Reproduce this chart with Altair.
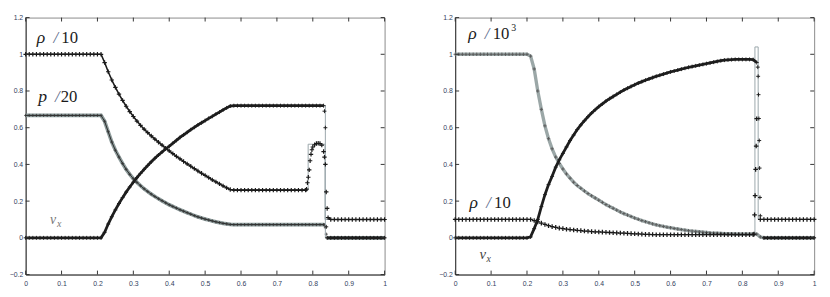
import altair as alt
import pandas as pd

# sampling positions of the numerical solution (step 0.01)
X_GRID = [round(i * 0.01, 2) for i in range(101)]
XTICKS = [0, 0.1, 0.2, 0.3, 0.4, 0.5, 0.6, 0.7, 0.8, 0.9, 1]
YTICKS = [-0.2, 0, 0.2, 0.4, 0.6, 0.8, 1, 1.2]

# ---------------- left panel ----------------
L_RHO_MID = [1.0, 0.955, 0.905, 0.860, 0.820, 0.783, 0.749, 0.717, 0.688, 0.661,
             0.636, 0.613, 0.592, 0.573, 0.555, 0.538, 0.521, 0.505, 0.489, 0.474,
             0.459, 0.444, 0.430, 0.416, 0.403, 0.390, 0.377, 0.364, 0.352, 0.340,
             0.328, 0.316, 0.305, 0.294, 0.283, 0.272, 0.263]
L_RHO = [1.0] * 21 + L_RHO_MID + [0.26] * 21 + [0.37, 0.495, 0.514, 0.514, 0.47, 0.16] + [0.1] * 16
L_RHO_EX_X = [0.7825, 0.785, 0.7875, 0.7925, 0.795, 0.7975, 0.805, 0.815, 0.825, 0.8325, 0.835, 0.8375, 0.8425]
L_RHO_EX_Y = [0.265, 0.30, 0.33, 0.42, 0.455, 0.48, 0.507, 0.515, 0.505, 0.44, 0.40, 0.25, 0.11]

L_VX_MID = [0.0, 0.03, 0.075, 0.115, 0.152, 0.187, 0.219, 0.249, 0.277, 0.303,
            0.328, 0.351, 0.373, 0.394, 0.414, 0.433, 0.451, 0.468, 0.484, 0.499,
            0.515, 0.531, 0.547, 0.561, 0.575, 0.589, 0.602, 0.615, 0.627, 0.639,
            0.651, 0.662, 0.674, 0.685, 0.697, 0.708, 0.718]
L_VX = [0.0] * 21 + L_VX_MID + [0.72] * 26 + [0.0] * 17
L_VX_EX_X = [0.8325, 0.835, 0.8375]
L_VX_EX_Y = [0.69, 0.60, 0.06]

L_P_MID = [0.667, 0.635, 0.578, 0.522, 0.477, 0.440, 0.405, 0.373, 0.346, 0.322,
           0.302, 0.284, 0.267, 0.252, 0.238, 0.225, 0.213, 0.202, 0.191, 0.180,
           0.171, 0.162, 0.153, 0.145, 0.137, 0.129, 0.121, 0.114, 0.108, 0.102,
           0.097, 0.092, 0.087, 0.083, 0.079, 0.076, 0.073]
L_P = [0.667] * 21 + L_P_MID + [0.072] * 26 + [0.0] * 17
L_P_EX_X = [0.8325, 0.835, 0.8375]
L_P_EX_Y = [0.07, 0.055, 0.02]

# exact solution (thin grey)
L_EXACT_RHO_X = [0.775, 0.787, 0.787, 0.834, 0.834, 0.845]
L_EXACT_RHO_Y = [0.26, 0.26, 0.51, 0.51, 0.1, 0.1]
L_EXACT_VX_X = [0.825, 0.835, 0.835, 0.845]
L_EXACT_VX_Y = [0.72, 0.72, 0.0, 0.0]

# ---------------- right panel ----------------
R_TOP_MID = [0.99, 0.92, 0.80, 0.70, 0.61, 0.54, 0.485, 0.44, 0.405, 0.375,
             0.348, 0.325, 0.303, 0.285, 0.27, 0.255, 0.241, 0.229, 0.217, 0.205,
             0.193, 0.181, 0.171, 0.161, 0.151, 0.141, 0.132, 0.124, 0.116, 0.108,
             0.101, 0.094, 0.088, 0.082, 0.076, 0.071, 0.066, 0.062, 0.058, 0.055,
             0.051, 0.048, 0.045, 0.042, 0.039, 0.037, 0.035, 0.033, 0.031, 0.029,
             0.027, 0.026, 0.025, 0.024, 0.023, 0.022, 0.022, 0.021, 0.021, 0.021,
             0.021, 0.021, 0.022, 0.02]
R_TOP = [1.0] * 21 + R_TOP_MID + [0.005] + [0.0] * 15

R_VX_MID = [0.005, 0.05, 0.10, 0.17, 0.235, 0.29, 0.335, 0.385, 0.425, 0.46,
            0.495, 0.53, 0.56, 0.59, 0.615, 0.638, 0.66, 0.68, 0.698, 0.715,
            0.73, 0.745, 0.758, 0.77, 0.782, 0.794, 0.805, 0.815, 0.825, 0.834,
            0.843, 0.851, 0.859, 0.866, 0.873, 0.88, 0.886, 0.892, 0.898, 0.904,
            0.909, 0.914, 0.919, 0.924, 0.929, 0.933, 0.937, 0.941, 0.945, 0.949,
            0.953, 0.957, 0.961, 0.965, 0.968, 0.97, 0.971, 0.972, 0.972, 0.972,
            0.972, 0.972, 0.971, 0.955]
R_VX = [0.0] * 21 + R_VX_MID + [0.12] + [0.0] * 15
R_VX_EX_X = [0.843, 0.844, 0.845, 0.846, 0.847, 0.848, 0.849]
R_VX_EX_Y = [0.93, 0.88, 0.78, 0.65, 0.53, 0.38, 0.22]

R_RHO_MID = [0.094, 0.087, 0.08, 0.073, 0.066, 0.061, 0.057, 0.053, 0.05,
             0.047, 0.045, 0.043, 0.041, 0.039, 0.037, 0.036, 0.034, 0.033, 0.032,
             0.031, 0.03, 0.029, 0.028, 0.027, 0.026, 0.025, 0.024, 0.023, 0.022,
             0.021, 0.02, 0.019, 0.019, 0.018] + [0.017] * 28
R_RHO = [0.1] * 22 + R_RHO_MID + [0.649] + [0.1] * 16
R_RHO_EX_X = [0.8325, 0.834, 0.8355, 0.837, 0.8385]
R_RHO_EX_Y = [0.02, 0.125, 0.23, 0.373, 0.50]

R_EXACT_RHO_X = [0.80, 0.835, 0.835, 0.844, 0.844, 0.87]
R_EXACT_RHO_Y = [0.017, 0.017, 1.04, 1.04, 0.1, 0.1]

for arr in (L_RHO, L_VX, L_P, R_TOP, R_VX, R_RHO):
    assert len(arr) == len(X_GRID), len(arr)

W, H = 366, 262
XS = alt.Scale(domain=[0, 1], nice=False, zero=False)
YS = alt.Scale(domain=[-0.2, 1.2], nice=False, zero=False)
XAX = alt.Axis(values=XTICKS, format="~g", title=None, labelPadding=5, labelFlush=False)
YAX = alt.Axis(values=YTICKS, format="~g", title=None, labelPadding=3)
PLUS = "M-1,0L1,0M0,-1L0,1"
SERIF = "Liberation Serif"


def X():
    return alt.X("x:Q", scale=XS, axis=XAX)


def Y():
    return alt.Y("y:Q", scale=YS, axis=YAX)


def series(vals, ex_x=(), ex_y=()):
    df = pd.DataFrame({"x": X_GRID + list(ex_x), "y": vals + list(ex_y)})
    df = df.sort_values("x", kind="stable").reset_index(drop=True)
    df["i"] = range(len(df))
    return df


def path(xs, ys):
    return pd.DataFrame({"x": xs, "y": ys, "i": range(len(xs)), "seg": 0})


def segs(df, cuts):
    """keep the connecting line away from the shock, where only markers are drawn"""
    parts = []
    for k, (a, b) in enumerate(cuts):
        p = df[(df.x >= a) & (df.x <= b)].copy()
        p["seg"] = k
        parts.append(p)
    return pd.concat(parts)


def line(df, color, width):
    return alt.Chart(df).mark_line(color=color, strokeWidth=width).encode(
        x=X(), y=Y(), order="i:Q", detail="seg:N")


def pts(df, color, size=16, sw=1.0):
    return alt.Chart(df).mark_point(shape=PLUS, filled=False, color=color, size=size,
                                    strokeWidth=sw, opacity=1).encode(x=X(), y=Y())


def label(x, y, t, size=17, dx=0, dy=0, style="normal", color="#1a1a1a"):
    return alt.Chart(pd.DataFrame({"x": [x], "y": [y], "t": [t]})).mark_text(
        align="left", baseline="alphabetic", font=SERIF, fontSize=size, fontStyle=style,
        color=color, dx=dx, dy=dy).encode(x=X(), y=Y(), text="t:N")


def ticks():
    tx = pd.DataFrame({"x": XTICKS})
    ty = pd.DataFrame({"y": YTICKS})
    c = "#333"
    bot = alt.Chart(tx).mark_rule(color=c, strokeWidth=1).encode(
        x=X(), y=alt.value(H), y2=alt.value(H - 4))
    top = alt.Chart(tx).mark_rule(color=c, strokeWidth=1).encode(
        x=X(), y=alt.value(0), y2=alt.value(4))
    lft = alt.Chart(ty).mark_rule(color=c, strokeWidth=1).encode(
        y=Y(), x=alt.value(0), x2=alt.value(4))
    rgt = alt.Chart(ty).mark_rule(color=c, strokeWidth=1).encode(
        y=Y(), x=alt.value(W), x2=alt.value(W - 4))
    return [bot, top, lft, rgt]


# left panel layers
l_rho = series(L_RHO, L_RHO_EX_X, L_RHO_EX_Y)
l_vx = series(L_VX, L_VX_EX_X, L_VX_EX_Y)
l_p = series(L_P, L_P_EX_X, L_P_EX_Y)

l_p_line = segs(l_p, [(0, 0.8325), (0.84, 1)])
left = alt.layer(
    line(l_p_line, "#8d9b9b", 3.8),
    line(l_p_line, "#2a2a2a", 1.0),
    pts(l_p, "#333", 10, 0.8),
    line(path(L_EXACT_RHO_X, L_EXACT_RHO_Y), "#9aa6aa", 1.0),
    line(path(L_EXACT_VX_X, L_EXACT_VX_Y), "#9aa6aa", 1.0),
    line(segs(l_rho, [(0, 0.7825), (0.8425, 1)]), "#1a1a1a", 1.6),
    pts(l_rho, "#1a1a1a", 20, 1.2),
    line(segs(l_vx, [(0, 0.83), (0.84, 1)]), "#1e1e1e", 2.8),
    pts(l_vx, "#1e1e1e", 16, 1.0),
    *ticks(),
    label(0.031, 1.063, "ρ", size=18, style="italic"),
    label(0.031, 1.063, "/", dx=17, style="italic", color="#5a6a8a"),
    label(0.031, 1.063, "10", dx=25),
    label(0.035, 0.742, "p", size=18, style="italic"),
    label(0.035, 0.742, "/", dx=17, style="italic", color="#5a6a8a"),
    label(0.035, 0.742, "20", dx=23),
    label(0.068, 0.073, "v", size=14, style="italic", color="#777"),
    label(0.068, 0.073, "x", size=10, dx=7, dy=3, style="italic", color="#777"),
).properties(width=W, height=H)

# right panel layers
r_top = series(R_TOP)
r_vx = series(R_VX, R_VX_EX_X, R_VX_EX_Y)
r_rho = series(R_RHO, R_RHO_EX_X, R_RHO_EX_Y)

right = alt.layer(
    line(segs(r_top, [(0, 1)]), "#9ba7a7", 3.4),
    pts(r_top, "#555", 12, 0.9),
    line(path(R_EXACT_RHO_X, R_EXACT_RHO_Y), "#9aa6aa", 1.0),
    line(segs(r_vx, [(0, 0.84), (0.86, 1)]), "#1e1e1e", 2.8),
    pts(r_vx, "#1e1e1e", 16, 1.0),
    pts(r_rho, "#1a1a1a", 22, 1.3),
    *ticks(),
    label(0.036, 1.085, "ρ", size=18, style="italic"),
    label(0.036, 1.085, "/", dx=17, style="italic", color="#5a6a8a"),
    label(0.036, 1.085, "10", dx=25),
    label(0.036, 1.085, "3", size=10, dx=44, dy=-8),
    label(0.04, 0.16, "ρ", size=18, style="italic"),
    label(0.04, 0.16, "/", dx=17, style="italic", color="#5a6a8a"),
    label(0.04, 0.16, "10", dx=25),
    label(0.068, -0.115, "v", size=15, style="italic", color="#444"),
    label(0.068, -0.115, "x", size=10, dx=7, dy=3, style="italic", color="#444"),
).properties(width=W, height=H)

chart = alt.hconcat(left, right, spacing=45).configure(
    padding={"left": 0, "top": 2, "right": 0, "bottom": 0}
).configure_view(stroke="#8a8a8a", strokeWidth=1).configure_axis(
    grid=False, ticks=False, domainColor="#333", domainWidth=1,
    labelColor="#33415e", labelFont="Liberation Sans", labelFontSize=7,
)

chart.save("out.html", embed_options={"renderer": "svg", "actions": False})
